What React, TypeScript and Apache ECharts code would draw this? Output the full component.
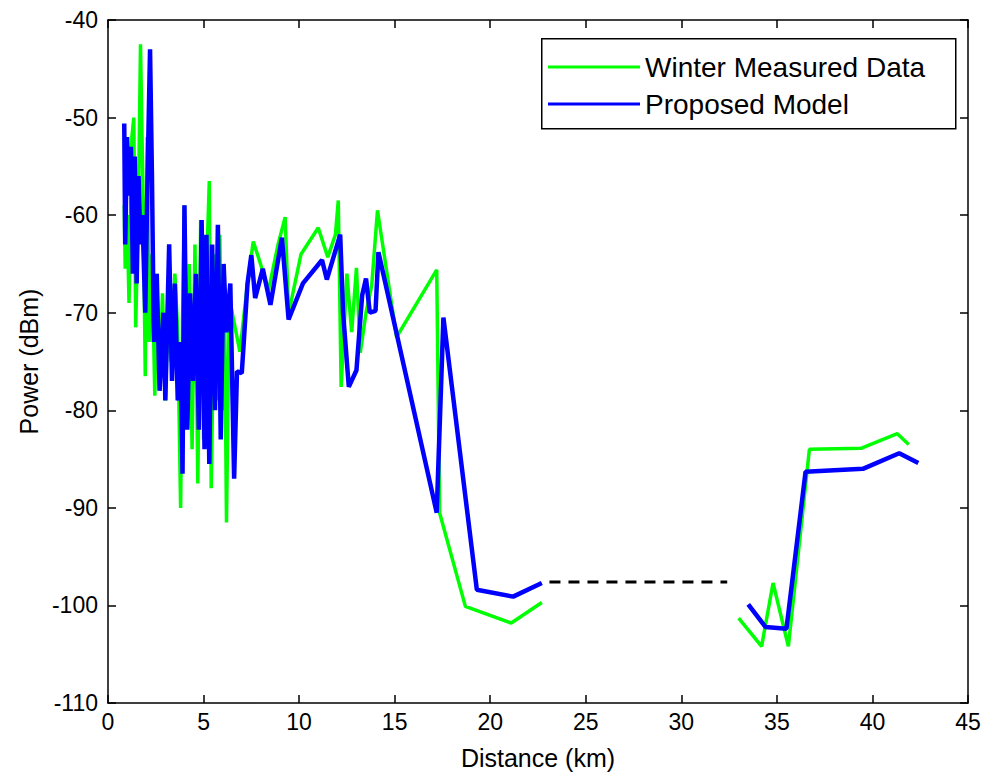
import React, { useEffect, useRef } from "react";
import * as echarts from "echarts";

// Distance (km) / Power (dBm) pairs; null marks the data gap
const winterMeasured: [number, number | null][] = [
  [0.85, -59], [0.9, -65.5], [1.0, -60], [1.1, -69], [1.25, -52], [1.35, -50], [1.45, -71.5],
  [1.6, -58], [1.7, -42.5], [1.85, -60], [1.95, -76.5], [2.05, -52], [2.15, -73], [2.3, -64],
  [2.45, -78.5], [2.55, -66], [2.7, -77.5], [2.85, -68], [3.0, -79], [3.15, -70], [3.3, -75],
  [3.5, -66], [3.65, -72], [3.8, -90], [3.9, -71], [4.0, -59], [4.1, -80], [4.25, -65],
  [4.4, -84], [4.55, -63], [4.7, -87.5], [4.8, -70], [4.85, -60.5], [5.0, -83], [5.1, -72],
  [5.15, -66], [5.3, -56.5], [5.4, -88], [5.5, -75], [5.55, -64], [5.7, -79], [5.85, -62],
  [6.0, -80], [6.1, -69], [6.2, -91.5], [6.35, -68.5], [6.6, -71], [6.9, -74], [7.3, -67],
  [7.6, -62.7], [7.9, -64.5], [8.4, -67.7], [8.9, -63], [9.27, -60.2], [9.45, -70.1],
  [10.1, -64], [11.0, -61.3], [11.5, -64.3], [11.9, -62], [12.05, -58.5], [12.2, -77.6],
  [12.5, -66], [12.75, -72], [13.0, -65.4], [13.2, -74.1], [13.5, -70], [13.8, -67.2],
  [14.1, -59.5], [15.1, -72.5], [17.2, -65.6], [17.35, -90.5], [18.7, -100.1],
  [21.1, -101.8], [22.7, -99.7],
  [22.8, null],
  [33.0, -101.3], [34.2, -104.2], [34.8, -97.7], [35.6, -104.2], [36.7, -84.0],
  [39.4, -83.9], [41.3, -82.4], [41.9, -83.5],
];

const proposedModel: [number, number | null][] = [
  [0.85, -50.6], [0.9, -63], [1.0, -52], [1.1, -58], [1.2, -53], [1.3, -66], [1.4, -54],
  [1.5, -67], [1.6, -56], [1.7, -63], [1.8, -60], [1.95, -70], [2.05, -58], [2.2, -43],
  [2.3, -56], [2.4, -73], [2.55, -66], [2.7, -78], [2.9, -70], [3.0, -79], [3.2, -63],
  [3.35, -77], [3.5, -67], [3.65, -79], [3.8, -73], [3.9, -86.5], [4.0, -59], [4.15, -82],
  [4.3, -68], [4.45, -77], [4.6, -66], [4.75, -82], [4.9, -60.5], [5.05, -84], [5.15, -62],
  [5.3, -85.5], [5.45, -63], [5.6, -80], [5.75, -61], [5.9, -83], [6.05, -65], [6.2, -72],
  [6.4, -67], [6.6, -87], [6.75, -76], [7.0, -76.2], [7.3, -67], [7.5, -64.1], [7.7, -68.5],
  [8.1, -65.5], [8.5, -69.2], [9.1, -62.3], [9.45, -70.7], [10.2, -67], [11.2, -64.6],
  [11.45, -66.6], [12.15, -62], [12.3, -70], [12.6, -77.6], [13.0, -75.9], [13.3, -68.2],
  [13.5, -66.5], [13.7, -70], [14.0, -69.8], [14.15, -63.8], [17.2, -90.5], [17.55, -70.5],
  [19.3, -98.4], [21.2, -99.1], [22.7, -97.7],
  [23.0, null],
  [33.5, -99.9], [34.4, -102.2], [35.5, -102.4], [36.5, -86.3], [39.5, -86.0],
  [41.4, -84.4], [42.4, -85.4],
];

const gapBridge: [number, number][] = [
  [23.1, -97.6],
  [32.4, -97.6],
];

const seriesNames = ["Winter Measured Data", "Proposed Model"];
const xName = "Distance (km)";
const yName = "Power (dBm)";

const FONT = "'Liberation Sans', Arial, sans-serif";

export default function App() {
  const ref = useRef<HTMLDivElement>(null);

  useEffect(() => {
    if (!ref.current) return;
    const chart = echarts.init(ref.current, null, { renderer: "svg" });
    const axisLine = { show: true, onZero: false, lineStyle: { color: "#000", width: 1.5 } };
    const tickIn = { show: true, inside: true, length: 8, lineStyle: { color: "#000", width: 1.5 } };
    chart.setOption({
      animation: false,
      backgroundColor: "#fff",
      grid: { left: 108, right: 37, top: 20, bottom: 78, containLabel: false },
      xAxis: [
        {
          type: "value",
          min: 0,
          max: 45,
          interval: 5,
          name: xName,
          nameLocation: "middle",
          nameGap: 42,
          nameTextStyle: { color: "#000", fontSize: 25, fontFamily: FONT },
          axisLine,
          axisTick: tickIn,
          splitLine: { show: false },
          axisLabel: { color: "#000", fontSize: 23, fontFamily: FONT, margin: 7 },
        },
        {
          type: "value",
          position: "top",
          min: 0,
          max: 45,
          interval: 5,
          axisLine,
          axisTick: tickIn,
          splitLine: { show: false },
          axisLabel: { show: false },
        },
      ],
      yAxis: [
        {
          type: "value",
          min: -110,
          max: -40,
          interval: 10,
          name: yName,
          nameLocation: "middle",
          nameGap: 66,
          nameTextStyle: { color: "#000", fontSize: 25, fontFamily: FONT },
          axisLine,
          axisTick: tickIn,
          splitLine: { show: false },
          axisLabel: { color: "#000", fontSize: 23, fontFamily: FONT, margin: 10 },
        },
        {
          type: "value",
          position: "right",
          min: -110,
          max: -40,
          interval: 10,
          axisLine,
          axisTick: tickIn,
          splitLine: { show: false },
          axisLabel: { show: false },
        },
      ],
      legend: {
        orient: "vertical",
        left: 541,
        top: 38,
        padding: [14, 10, 8, 7],
        itemGap: 7,
        itemWidth: 92,
        itemHeight: 3,
        z: 10,
        selectedMode: false,
        textStyle: { color: "#000", fontSize: 28, fontFamily: FONT, lineHeight: 30 },
        data: [
          { name: seriesNames[0], icon: "rect", itemStyle: { color: "#00ff00" } },
          { name: seriesNames[1], icon: "rect", itemStyle: { color: "#0000ff" } },
        ],
      },
      graphic: [
        {
          type: "rect",
          left: 541,
          top: 38,
          z: 5,
          shape: { width: 414, height: 90 },
          style: { fill: "#fff", stroke: "#000", lineWidth: 1.5 },
        },
      ],
      series: [
        {
          name: seriesNames[0],
          type: "line",
          data: winterMeasured,
          showSymbol: false,
          connectNulls: false,
          lineStyle: { color: "#00ff00", width: 3.5 },
          itemStyle: { color: "#00ff00" },
          z: 2,
        },
        {
          name: seriesNames[1],
          type: "line",
          data: proposedModel,
          showSymbol: false,
          connectNulls: false,
          lineStyle: { color: "#0000ff", width: 4.5 },
          itemStyle: { color: "#0000ff" },
          z: 3,
        },
        {
          name: "gap",
          type: "line",
          data: gapBridge,
          showSymbol: false,
          lineStyle: { color: "#000", width: 3, type: [11, 8] },
          itemStyle: { color: "#000" },
          z: 2,
        },
      ],
    });
    return () => chart.dispose();
  }, []);

  return (
    <div
      ref={ref}
      style={{ position: "fixed", left: 0, top: 0, width: 1005, height: 781, background: "#fff" }}
    />
  );
}
